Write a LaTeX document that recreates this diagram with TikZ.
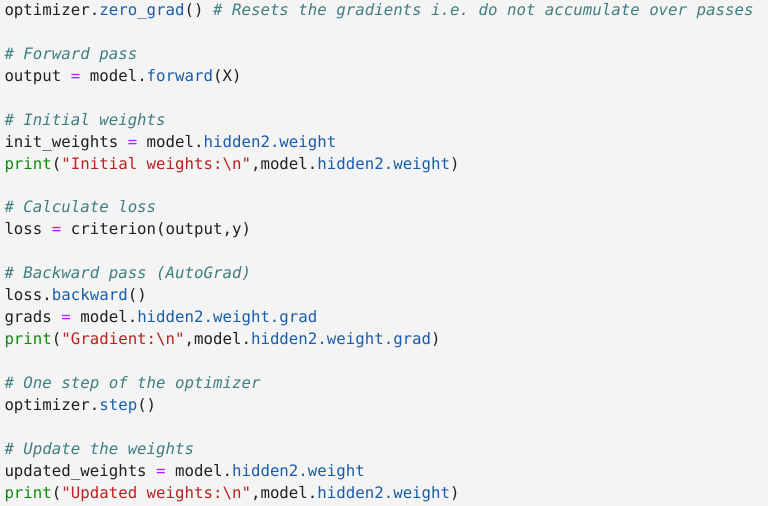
\documentclass[tikz,border=0pt]{standalone}
\usepackage{fontspec}
\newfontfamily\codefont{DejaVu Sans Mono}
\definecolor{bgc}{HTML}{F4F4F4}
\definecolor{txt}{HTML}{212121}
\definecolor{comc}{HTML}{3F7F7F}
\definecolor{bluc}{HTML}{1A5DAB}
\definecolor{opc}{HTML}{AA22FF}
\definecolor{fnc}{HTML}{118811}
\definecolor{strc}{HTML}{BA2121}
\newcommand\Ccom[1]{\textcolor{comc}{\itshape #1}}
\newcommand\Cblu[1]{\textcolor{bluc}{#1}}
\newcommand\Cop[1]{\textcolor{opc}{#1}}
\newcommand\Cfn[1]{\textcolor{fnc}{#1}}
\newcommand\Cstr[1]{\textcolor{strc}{#1}}
\frenchspacing
\tikzset{codeline/.style={anchor=base west, inner sep=0pt, outer sep=0pt, text=txt,
  font=\codefont\fontsize{15.75bp}{22bp}\selectfont\frenchspacing}}
\begin{document}
\begin{tikzpicture}[x=1bp,y=-1bp]
\fill[bgc] (0,0) rectangle (768,506);
\useasboundingbox (0,0) rectangle (768,506);
\def\lx{4.5}
\def\ly#1{15.4+21.95*#1}
\node[codeline] (l0) at (\lx,{\ly{0}}) {optimizer.\Cblu{zero\_grad}() \Ccom{\# Resets the gradients i.e. do not accumulate over passes}};
\node[codeline] (l2) at (\lx,{\ly{2}}) {\Ccom{\# Forward pass}};
\node[codeline] (l3) at (\lx,{\ly{3}}) {output \Cop{=} model.\Cblu{forward}(X)};
\node[codeline] (l5) at (\lx,{\ly{5}}) {\Ccom{\# Initial weights}};
\node[codeline] (l6) at (\lx,{\ly{6}}) {init\_weights \Cop{=} model.\Cblu{hidden2.weight}};
\node[codeline] (l7) at (\lx,{\ly{7}}) {\Cfn{print}(\Cstr{"Initial weights:\textbackslash n"},model.\Cblu{hidden2.weight})};
\node[codeline] (l9) at (\lx,{\ly{9}}) {\Ccom{\# Calculate loss}};
\node[codeline] (l10) at (\lx,{\ly{10}}) {loss \Cop{=} criterion(output,y)};
\node[codeline] (l12) at (\lx,{\ly{12}}) {\Ccom{\# Backward pass (AutoGrad)}};
\node[codeline] (l13) at (\lx,{\ly{13}}) {loss.\Cblu{backward}()};
\node[codeline] (l14) at (\lx,{\ly{14}}) {grads \Cop{=} model.\Cblu{hidden2.weight.grad}};
\node[codeline] (l15) at (\lx,{\ly{15}}) {\Cfn{print}(\Cstr{"Gradient:\textbackslash n"},model.\Cblu{hidden2.weight.grad})};
\node[codeline] (l17) at (\lx,{\ly{17}}) {\Ccom{\# One step of the optimizer}};
\node[codeline] (l18) at (\lx,{\ly{18}}) {optimizer.\Cblu{step}()};
\node[codeline] (l20) at (\lx,{\ly{20}}) {\Ccom{\# Update the weights}};
\node[codeline] (l21) at (\lx,{\ly{21}}) {updated\_weights \Cop{=} model.\Cblu{hidden2.weight}};
\node[codeline] (l22) at (\lx,{\ly{22}}) {\Cfn{print}(\Cstr{"Updated weights:\textbackslash n"},model.\Cblu{hidden2.weight})};
\end{tikzpicture}
\end{document}
